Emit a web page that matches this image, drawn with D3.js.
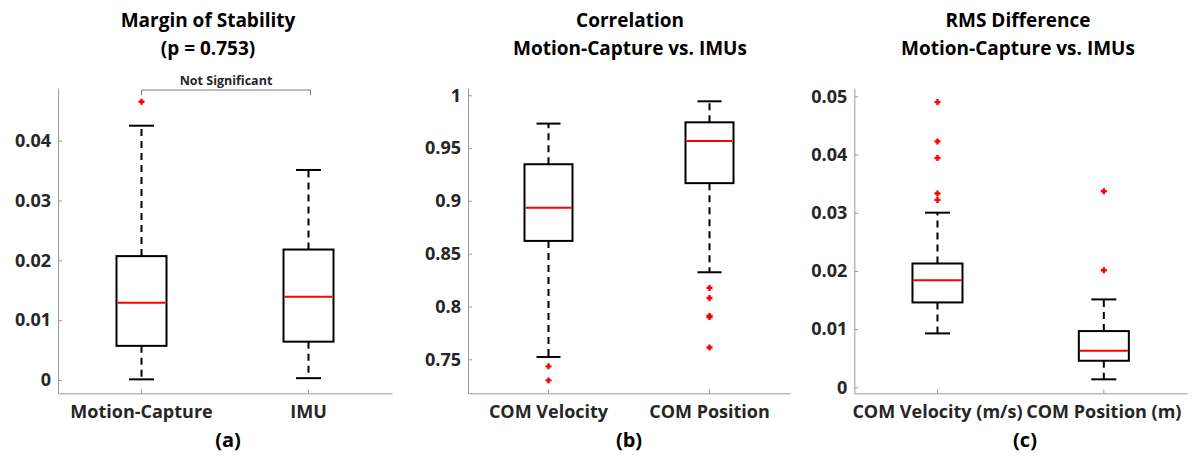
<!DOCTYPE html>
<html>
<head>
<meta charset="utf-8">
<script src="https://cdn.jsdelivr.net/npm/d3@7"></script>
<style>
  body { margin: 0; background: #fff; }
  svg { display: block; }
  text { font-family: "Open Sans", Lato, sans-serif; font-weight: bold; }
</style>
</head>
<body>
<svg id="chart" width="1192" height="459"></svg>
<script>
// ---------- Panel (a): Margin of Stability ----------
const catsA = ["Motion-Capture", "IMU"];
const whiskerLowA = [0.0001, 0.0003];
const q1A = [0.0057, 0.0064];
const medianA = [0.0129, 0.0139];
const q3A = [0.0207, 0.0218];
const whiskerHighA = [0.0425, 0.0351];
const outliersA = [[0.0465], []];
const ticksA = [0, 0.01, 0.02, 0.03, 0.04];
const tickLabelsA = ["0", "0.01", "0.02", "0.03", "0.04"];
const titleA = ["Margin of Stability", "(p = 0.753)"];

// ---------- Panel (b): Correlation ----------
const catsB = ["COM Velocity", "COM Position"];
const whiskerLowB = [0.7522, 0.8324];
const q1B = [0.8621, 0.9168];
const medianB = [0.8934, 0.9567];
const q3B = [0.9347, 0.9744];
const whiskerHighB = [0.9732, 0.9943];
const outliersB = [[0.7433, 0.7300], [0.8176, 0.8080, 0.7910, 0.7900, 0.7612]];
const ticksB = [0.75, 0.8, 0.85, 0.9, 0.95, 1];
const tickLabelsB = ["0.75", "0.8", "0.85", "0.9", "0.95", "1"];
const titleB = ["Correlation", "Motion-Capture vs. IMUs"];

// ---------- Panel (c): RMS Difference ----------
const catsC = ["COM Velocity (m/s)", "COM Position (m)"];
const whiskerLowC = [0.00926, 0.00137];
const q1C = [0.01458, 0.00456];
const medianC = [0.0184, 0.00628];
const q3C = [0.02127, 0.00966];
const whiskerHighC = [0.0300, 0.0151];
const outliersC = [[0.0490, 0.04225, 0.0394, 0.0333, 0.0322], [0.03367, 0.0201]];
const ticksC = [0, 0.01, 0.02, 0.03, 0.04, 0.05];
const tickLabelsC = ["0", "0.01", "0.02", "0.03", "0.04", "0.05"];
const titleC = ["RMS Difference", "Motion-Capture vs. IMUs"];

const panelLetters = ["(a)", "(b)", "(c)"];

// significance annotation for panel (a)
const sigLabel = "Not Significant";

// ---------- layout ----------
const svg = d3.select("#chart");
const axisTop = 88, axisBottom = 393.3;

const panels = [
  { cats: catsA, lo: whiskerLowA, q1: q1A, med: medianA, q3: q3A, hi: whiskerHighA, out: outliersA,
    ticks: ticksA, labels: tickLabelsA, title: titleA, letter: panelLetters[0],
    x0: 58, x1: 392, domain: [-0.00223, 0.0488], titleX: 208, letterX: 228, boxW: 50 },
  { cats: catsB, lo: whiskerLowB, q1: q1B, med: medianB, q3: q3B, hi: whiskerHighB, out: outliersB,
    ticks: ticksB, labels: tickLabelsB, title: titleB, letter: panelLetters[1],
    x0: 468, x1: 790, domain: [0.7178, 1.0069], titleX: 630, letterX: 629, boxW: 48 },
  { cats: catsC, lo: whiskerLowC, q1: q1C, med: medianC, q3: q3C, hi: whiskerHighC, out: outliersC,
    ticks: ticksC, labels: tickLabelsC, title: titleC, letter: panelLetters[2],
    x0: 854.3, x1: 1187, domain: [-0.00103, 0.05142], titleX: 1018, letterX: 1025, boxW: 50 }
];

const axisColor = "#9a9a9a";
const textColor = "#262626";
const fontFam = '"Open Sans", Lato, sans-serif';

panels.forEach((p, pi) => {
  const g = svg.append("g");
  const y = d3.scaleLinear().domain(p.domain).range([axisBottom, axisTop]);
  const x = d3.scaleBand().domain(p.cats).range([p.x0, p.x1]).paddingInner(0).paddingOuter(0);
  const cx = c => x(c) + x.bandwidth() / 2;

  // y axis
  const yAxis = d3.axisLeft(y).tickValues(p.ticks).tickSizeInner(-4).tickSizeOuter(0)
    .tickFormat((d, i) => p.labels[i]).tickPadding(7);
  const ya = g.append("g").attr("transform", `translate(${p.x0},0)`).call(yAxis);
  ya.select(".domain").attr("stroke", axisColor).attr("stroke-width", 1);
  ya.selectAll(".tick line").attr("stroke", axisColor);
  ya.selectAll(".tick text").attr("fill", textColor).style("font-size", "18px")
    .style("font-family", fontFam).style("font-weight", "bold");

  // x axis
  const xAxis = d3.axisBottom(x).tickSizeInner(-4).tickSizeOuter(0).tickPadding(12);
  const xa = g.append("g").attr("transform", `translate(0,${axisBottom})`).call(xAxis);
  xa.select(".domain").attr("stroke", axisColor).attr("stroke-width", 1);
  xa.selectAll(".tick line").attr("stroke", axisColor);
  xa.selectAll(".tick text").attr("fill", textColor).style("font-size", "18px")
    .style("font-family", fontFam).style("font-weight", "bold")
    .attr("dy", "0.71em");

  // boxes
  p.cats.forEach((c, i) => {
    const xc = cx(c);
    const bw = p.boxW, cw = bw / 2;
    // whiskers (dashed)
    g.append("line").attr("x1", xc).attr("x2", xc).attr("y1", y(p.q3[i])).attr("y2", y(p.hi[i]))
      .attr("stroke", "#000").attr("stroke-width", 2).attr("stroke-dasharray", "7,5");
    g.append("line").attr("x1", xc).attr("x2", xc).attr("y1", y(p.q1[i])).attr("y2", y(p.lo[i]))
      .attr("stroke", "#000").attr("stroke-width", 2).attr("stroke-dasharray", "7,5");
    // caps
    [p.hi[i], p.lo[i]].forEach(v => {
      g.append("line").attr("x1", xc - cw / 2).attr("x2", xc + cw / 2).attr("y1", y(v)).attr("y2", y(v))
        .attr("stroke", "#000").attr("stroke-width", 2);
    });
    // box
    g.append("rect").attr("x", xc - bw / 2).attr("width", bw)
      .attr("y", y(p.q3[i])).attr("height", y(p.q1[i]) - y(p.q3[i]))
      .attr("fill", "none").attr("stroke", "#000").attr("stroke-width", 2);
    // median
    g.append("line").attr("x1", xc - bw / 2 + 1).attr("x2", xc + bw / 2 - 1)
      .attr("y1", y(p.med[i])).attr("y2", y(p.med[i]))
      .attr("stroke", "#ff0000").attr("stroke-width", 2);
    // outliers
    p.out[i].forEach(v => {
      const oy = y(v);
      g.append("path").attr("d", `M${xc - 3},${oy}H${xc + 3}M${xc},${oy - 3}V${oy + 3}`)
        .attr("stroke", "#ff0000").attr("stroke-width", 2.4);
    });
  });

  // title
  g.append("text").attr("x", p.titleX).attr("y", 27).attr("text-anchor", "middle")
    .attr("fill", "#000").style("font-size", "19px").text(p.title[0]);
  g.append("text").attr("x", p.titleX).attr("y", 55).attr("text-anchor", "middle")
    .attr("fill", "#000").style("font-size", "19px").text(p.title[1]);

  // panel letter
  g.append("text").attr("x", p.letterX).attr("y", 447).attr("text-anchor", "middle")
    .attr("fill", "#000").style("font-size", "20px").text(p.letter);

  // significance bracket on panel (a)
  if (pi === 0) {
    const xa1 = cx(p.cats[0]), xa2 = cx(p.cats[1]) + 2;
    g.append("path").attr("d", `M${xa1},95V90H${xa2}V95`)
      .attr("fill", "none").attr("stroke", "#7a7a7a").attr("stroke-width", 1);
    g.append("text").attr("x", (xa1 + xa2) / 2).attr("y", 85).attr("text-anchor", "middle")
      .attr("fill", textColor).style("font-size", "12.5px").text(sigLabel);
  }
});
</script>
</body>
</html>
